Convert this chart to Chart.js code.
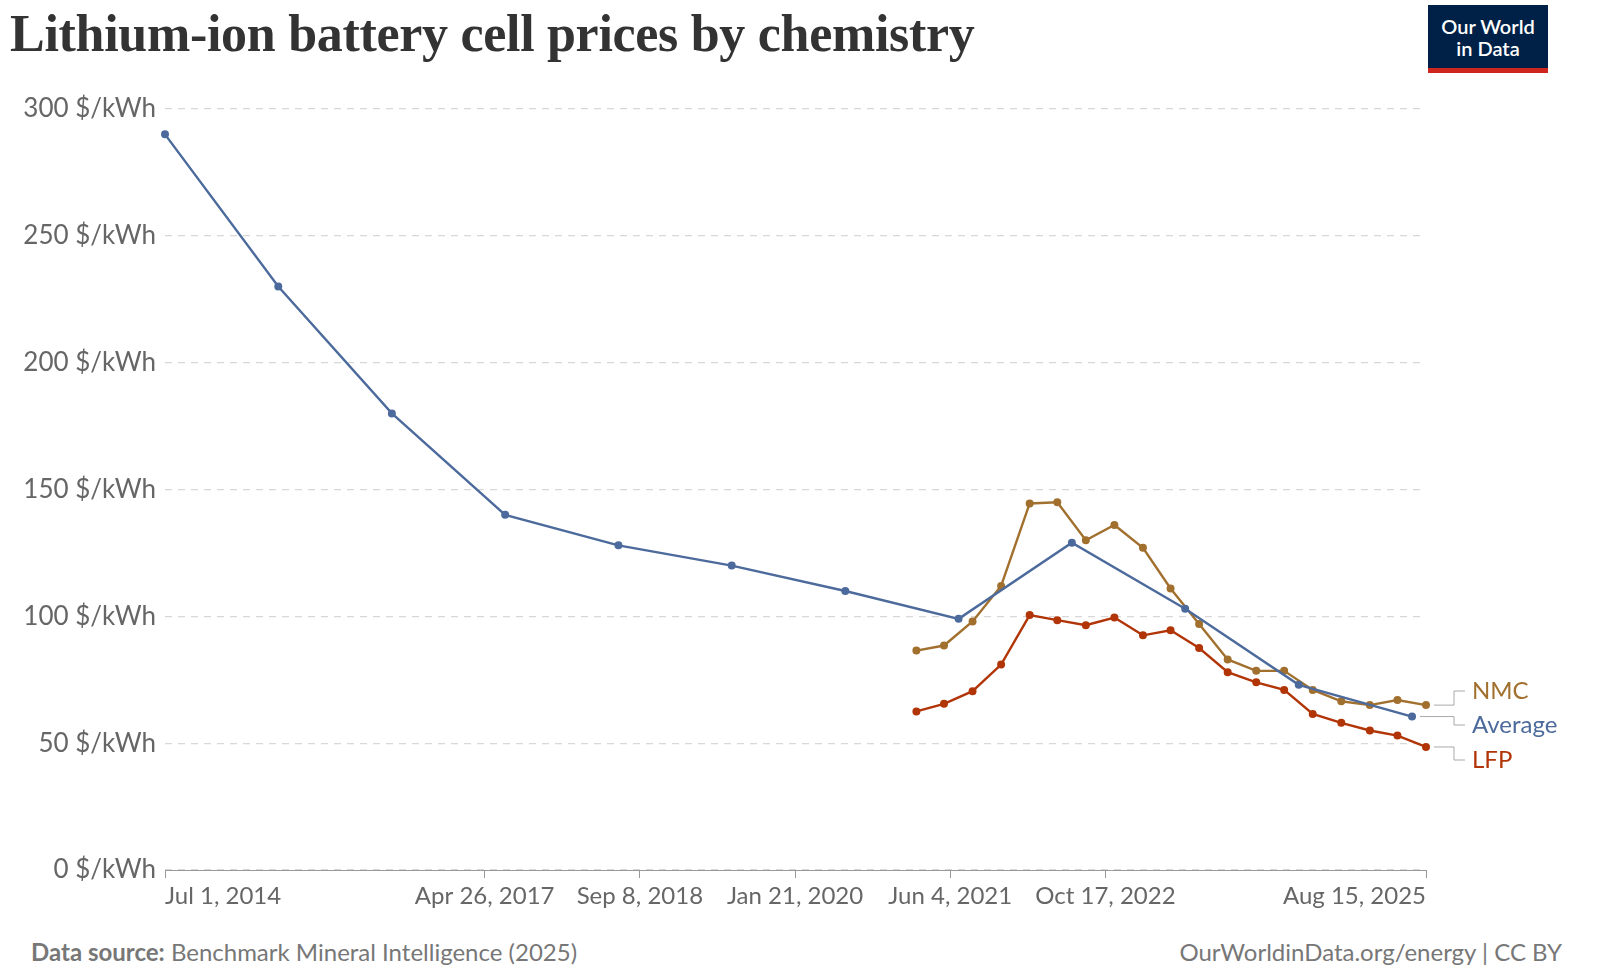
<!DOCTYPE html>
<html><head><meta charset="utf-8">
<script src="https://cdn.jsdelivr.net/npm/chart.js@4"></script>
<style>
body{margin:0;width:1600px;height:972px;background:#fff;overflow:hidden;font-family:Lato,sans-serif}
#t{position:absolute;left:10px;top:4px;font:bold 52px "Liberation Serif",serif;color:#333;letter-spacing:-0.3px}
#logo{position:absolute;left:1428px;top:5px;width:120px;height:68px;background:#002147;color:#fff;font:600 20px Lato;text-align:center;line-height:22px;box-sizing:border-box;padding-top:10px;border-bottom:5px solid #ce261e}
#src{position:absolute;left:31px;top:940px;font:24px Lato;color:#777;line-height:24px}
#lic{position:absolute;right:38px;top:940px;font:24px Lato;color:#777;line-height:24px}
#c{position:absolute;left:0;top:0}
</style></head><body>
<div id="t">Lithium-ion battery cell prices by chemistry</div>
<div id="logo">Our World<br>in Data</div>
<div id="src"><b>Data source:</b> Benchmark Mineral Intelligence (2025)</div>
<div id="lic">OurWorldinData.org/energy | CC BY</div>
<canvas id="c" width="1600" height="972"></canvas>
<script>
const avgDates=["2014-07-01","2015-07-01","2016-07-01","2017-07-01","2018-07-01","2019-07-01","2020-07-01","2021-07-01","2022-07-01","2023-07-01","2024-07-01","2025-07-01"];
const avgValues=[290,230,180,140,128,120,110,99,129,103,73,60.5];
const qDates=["2021-02-15","2021-05-15","2021-08-15","2021-11-15","2022-02-15","2022-05-15","2022-08-15","2022-11-15","2023-02-15","2023-05-15","2023-08-15","2023-11-15","2024-02-15","2024-05-15","2024-08-15","2024-11-15","2025-02-15","2025-05-15","2025-08-15"];
const nmcValues=[86.5,88.5,98,112,144.5,145,130,136,127,111,97,83,78.5,78.5,71,66.5,65,67,65];
const lfpValues=[62.5,65.5,70.5,81,100.5,98.5,96.5,99.5,92.5,94.5,87.5,78,74,71,61.5,58,55,53,48.5];
const xTickDates=["2014-07-01","2017-04-26","2018-09-08","2020-01-21","2021-06-04","2022-10-17","2025-08-15"];
const xTickLabels=["Jul 1, 2014","Apr 26, 2017","Sep 8, 2018","Jan 21, 2020","Jun 4, 2021","Oct 17, 2022","Aug 15, 2025"];
const yTicks=[0,50,100,150,200,250,300];
const ts=d=>Date.parse(d+"T00:00:00Z");
const pts=(ds,vs)=>ds.map((d,i)=>({x:ts(d),y:vs[i]}));
const cAvg="#4c6a9c",cNmc="#a2702e",cLfp="#b13507";
const mk=(label,data,color)=>({label,data,borderColor:color,backgroundColor:color,borderWidth:2.4,pointRadius:2.8,pointHoverRadius:3,tension:0,clip:false});
const labelPlugin={id:"lbl",afterDatasetsDraw(ch){
  const ctx=ch.ctx,x=ch.scales.x,y=ch.scales.y;
  const items=[["NMC",nmcValues.at(-1),qDates.at(-1),cNmc,691],["Average",avgValues.at(-1),avgDates.at(-1),cAvg,725],["LFP",lfpValues.at(-1),qDates.at(-1),cLfp,760]];
  ctx.save();ctx.font="24px Lato";ctx.textBaseline="middle";
  items.forEach(([t,v,d,c,ly])=>{
    const py=y.getPixelForValue(v),px=x.getPixelForValue(ts(d))+8;
    ctx.strokeStyle="#aaa";ctx.lineWidth=1;ctx.beginPath();ctx.moveTo(px,py);ctx.lineTo(1454,py);ctx.lineTo(1454,ly);ctx.lineTo(1465,ly);ctx.stroke();
    ctx.fillStyle=c;ctx.fillText(t,1472,ly);
  });ctx.restore();}};
new Chart(document.getElementById("c"),{type:"line",
 data:{datasets:[mk("Average",pts(avgDates,avgValues),cAvg),mk("NMC",pts(qDates,nmcValues),cNmc),mk("LFP",pts(qDates,lfpValues),cLfp)]},
 options:{responsive:false,animation:false,layout:{padding:{top:109,right:174,bottom:0,left:0}},
  plugins:{legend:{display:false},tooltip:{enabled:false}},
  scales:{
   x:{type:"linear",min:ts("2014-07-01"),max:ts("2025-08-15"),
      afterBuildTicks:s=>{s.ticks=xTickDates.map(d=>({value:ts(d)}));},
      afterFit:s=>{s.height=102;},
      ticks:{callback:(v)=>xTickLabels[xTickDates.findIndex(d=>ts(d)===v)],font:{family:"Lato",size:24},color:"#666",maxRotation:0,autoSkip:false,padding:4,align:"inner"},
      grid:{drawOnChartArea:false,drawTicks:true,tickLength:8,color:"#999"},border:{color:"#999"}},
   y:{min:0,max:300,afterBuildTicks:s=>{s.ticks=yTicks.map(v=>({value:v}));},
      afterFit:s=>{s.width=165;},
      ticks:{callback:v=>v+" $/kWh",font:{family:"Lato",size:26},color:"#666",padding:9},
      grid:{color:"#d8d8d8",drawTicks:false,lineWidth:1.3},border:{display:false,dash:[7,6]}}
  }},plugins:[labelPlugin]});
</script></body></html>
